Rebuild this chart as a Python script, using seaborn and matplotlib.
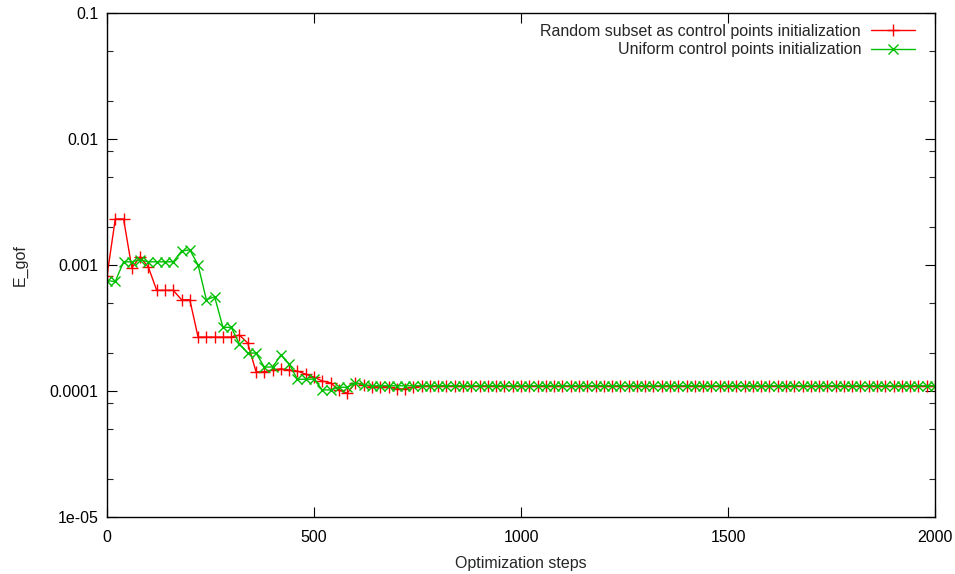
import matplotlib
matplotlib.use("Agg")
import matplotlib.pyplot as plt
import matplotlib.ticker as mticker
import seaborn as sns
import pandas as pd

steps = [0, 20, 40, 60, 80, 100, 120, 140, 160, 180, 200, 220, 240, 260, 280, 300,
         320, 340, 360, 380, 400, 420, 440, 460, 480, 500, 520, 540, 560, 580, 600,
         620, 640, 660, 680, 700, 720, 740, 760, 780, 800, 820, 840, 860, 880, 900,
         920, 940, 960, 980, 1000, 1020, 1040, 1060, 1080, 1100, 1120, 1140, 1160,
         1180, 1200, 1220, 1240, 1260, 1280, 1300, 1320, 1340, 1360, 1380, 1400,
         1420, 1440, 1460, 1480, 1500, 1520, 1540, 1560, 1580, 1600, 1620, 1640,
         1660, 1680, 1700, 1720, 1740, 1760, 1780, 1800, 1820, 1840, 1860, 1880,
         1900, 1920, 1940, 1960, 1980, 2000]

random_subset = [8.2e-4, 2.32e-3, 2.32e-3, 9.5e-4, 1.16e-3, 9.6e-4, 6.3e-4, 6.3e-4,
                 6.3e-4, 5.3e-4, 5.3e-4, 2.68e-4, 2.68e-4, 2.68e-4, 2.68e-4, 2.68e-4,
                 2.78e-4, 2.40e-4, 1.42e-4, 1.42e-4, 1.47e-4, 1.50e-4, 1.47e-4, 1.44e-4,
                 1.36e-4, 1.29e-4, 1.20e-4, 1.16e-4, 1.02e-4, 9.6e-5, 1.16e-4, 1.12e-4,
                 1.08e-4, 1.08e-4, 1.08e-4, 1.04e-4, 1.04e-4, 1.08e-4,
                 1.09e-4, 1.09e-4, 1.09e-4, 1.09e-4, 1.09e-4, 1.09e-4, 1.09e-4, 1.09e-4,
                 1.09e-4, 1.09e-4, 1.09e-4, 1.09e-4, 1.09e-4, 1.09e-4, 1.09e-4, 1.09e-4,
                 1.09e-4, 1.09e-4, 1.09e-4, 1.09e-4, 1.09e-4, 1.09e-4, 1.09e-4, 1.09e-4,
                 1.09e-4, 1.09e-4, 1.09e-4, 1.09e-4, 1.09e-4, 1.09e-4, 1.09e-4, 1.09e-4,
                 1.09e-4, 1.09e-4, 1.09e-4, 1.09e-4, 1.09e-4, 1.09e-4, 1.09e-4, 1.09e-4,
                 1.09e-4, 1.09e-4, 1.09e-4, 1.09e-4, 1.09e-4, 1.09e-4, 1.09e-4, 1.09e-4,
                 1.09e-4, 1.09e-4, 1.09e-4, 1.09e-4, 1.09e-4, 1.09e-4, 1.09e-4, 1.09e-4,
                 1.09e-4, 1.09e-4, 1.09e-4, 1.09e-4, 1.09e-4, 1.09e-4, 1.09e-4]

uniform = [7.5e-4, 7.4e-4, 1.06e-3, 1.06e-3, 1.10e-3, 1.06e-3, 1.06e-3, 1.06e-3,
           1.06e-3, 1.29e-3, 1.32e-3, 1.00e-3, 5.3e-4, 5.6e-4, 3.2e-4, 3.2e-4,
           2.36e-4, 2.0e-4, 2.0e-4, 1.55e-4, 1.55e-4, 1.93e-4, 1.64e-4, 1.24e-4,
           1.24e-4, 1.24e-4, 1.02e-4, 1.02e-4, 1.07e-4, 1.07e-4, 1.16e-4, 1.12e-4,
           1.10e-4, 1.10e-4,
           1.10e-4, 1.10e-4, 1.10e-4, 1.10e-4, 1.10e-4, 1.10e-4, 1.10e-4, 1.10e-4,
           1.10e-4, 1.10e-4, 1.10e-4, 1.10e-4, 1.10e-4, 1.10e-4, 1.10e-4, 1.10e-4,
           1.10e-4, 1.10e-4, 1.10e-4, 1.10e-4, 1.10e-4, 1.10e-4, 1.10e-4, 1.10e-4,
           1.10e-4, 1.10e-4, 1.10e-4, 1.10e-4, 1.10e-4, 1.10e-4, 1.10e-4, 1.10e-4,
           1.10e-4, 1.10e-4, 1.10e-4, 1.10e-4, 1.10e-4, 1.10e-4, 1.10e-4, 1.10e-4,
           1.10e-4, 1.10e-4, 1.10e-4, 1.10e-4, 1.10e-4, 1.10e-4, 1.10e-4, 1.10e-4,
           1.10e-4, 1.10e-4, 1.10e-4, 1.10e-4, 1.10e-4, 1.10e-4, 1.10e-4, 1.10e-4,
           1.10e-4, 1.10e-4, 1.10e-4, 1.10e-4, 1.10e-4, 1.10e-4, 1.10e-4, 1.10e-4,
           1.10e-4, 1.10e-4, 1.10e-4]

series_names = ["Random subset as control points initialization",
                "Uniform control points initialization"]

x_ticks = [0, 500, 1000, 1500, 2000]
y_ticks = [1e-5, 1e-4, 1e-3, 1e-2, 1e-1]
y_tick_labels = ["1e-05", "0.0001", "0.001", "0.01", "0.1"]
y_minor = [2e-5, 5e-5, 8e-5, 2e-4, 5e-4, 2e-3, 5e-3, 8e-3, 2e-2, 5e-2]

sns.set_style("ticks")
plt.rcParams["font.family"] = ["Liberation Sans", "DejaVu Sans"]
FS = 11.5
plt.rcParams["font.size"] = FS

df = pd.DataFrame({
    "step": steps * 2,
    "value": random_subset + uniform,
    "series": [series_names[0]] * len(steps) + [series_names[1]] * len(steps),
})

fig = plt.figure(figsize=(9.55, 5.74), dpi=100)
ax = fig.add_axes([107 / 955, 1 - 517 / 574, (935 - 107) / 955, (517 - 13) / 574])

colors = ["#ff0000", "#00c000"]
markers = ["+", "x"]
sizes = [8, 7.5]
for name, c, m, ms in zip(series_names, colors, markers, sizes):
    sns.lineplot(data=df[df.series == name], x="step", y="value",
                 color=c, marker=m, markersize=ms, markeredgewidth=1,
                 markeredgecolor=c, markerfacecolor=c, linestyle="-",
                 linewidth=1, ax=ax, label=name, errorbar=None)

ax.set_yscale("log")
ax.set_xlim(0, 2000)
ax.set_ylim(1e-5, 0.1)
ax.set_xticks(x_ticks)
ax.set_xticklabels([str(v) for v in x_ticks])
ax.yaxis.set_major_locator(mticker.FixedLocator(y_ticks))
ax.yaxis.set_major_formatter(mticker.FixedFormatter(y_tick_labels))
ax.yaxis.set_minor_locator(mticker.FixedLocator(y_minor))
ax.yaxis.set_minor_formatter(mticker.NullFormatter())

ax.tick_params(which="major", direction="in", length=7, width=0.8,
               top=True, right=True, labelsize=FS, colors="black")
ax.tick_params(axis="x", which="major", pad=9)
ax.tick_params(axis="y", which="major", pad=6)
ax.tick_params(which="minor", direction="in", length=4, width=0.8,
               top=False, right=True)
for s in ax.spines.values():
    s.set_linewidth(1.0)
    s.set_color("black")

ax.set_xlabel("Optimization steps", fontsize=FS, labelpad=8)
ax.set_ylabel("E_gof", fontsize=FS, labelpad=16)

ax.legend(loc="upper right", frameon=False, markerfirst=False,
          handlelength=2.75, fontsize=FS, labelspacing=0.2,
          borderaxespad=0.6, handletextpad=0.6,
          bbox_to_anchor=(1 - 4.5 / 828, 1 + 5 / 504))

fig.savefig("out.png", dpi=100)
